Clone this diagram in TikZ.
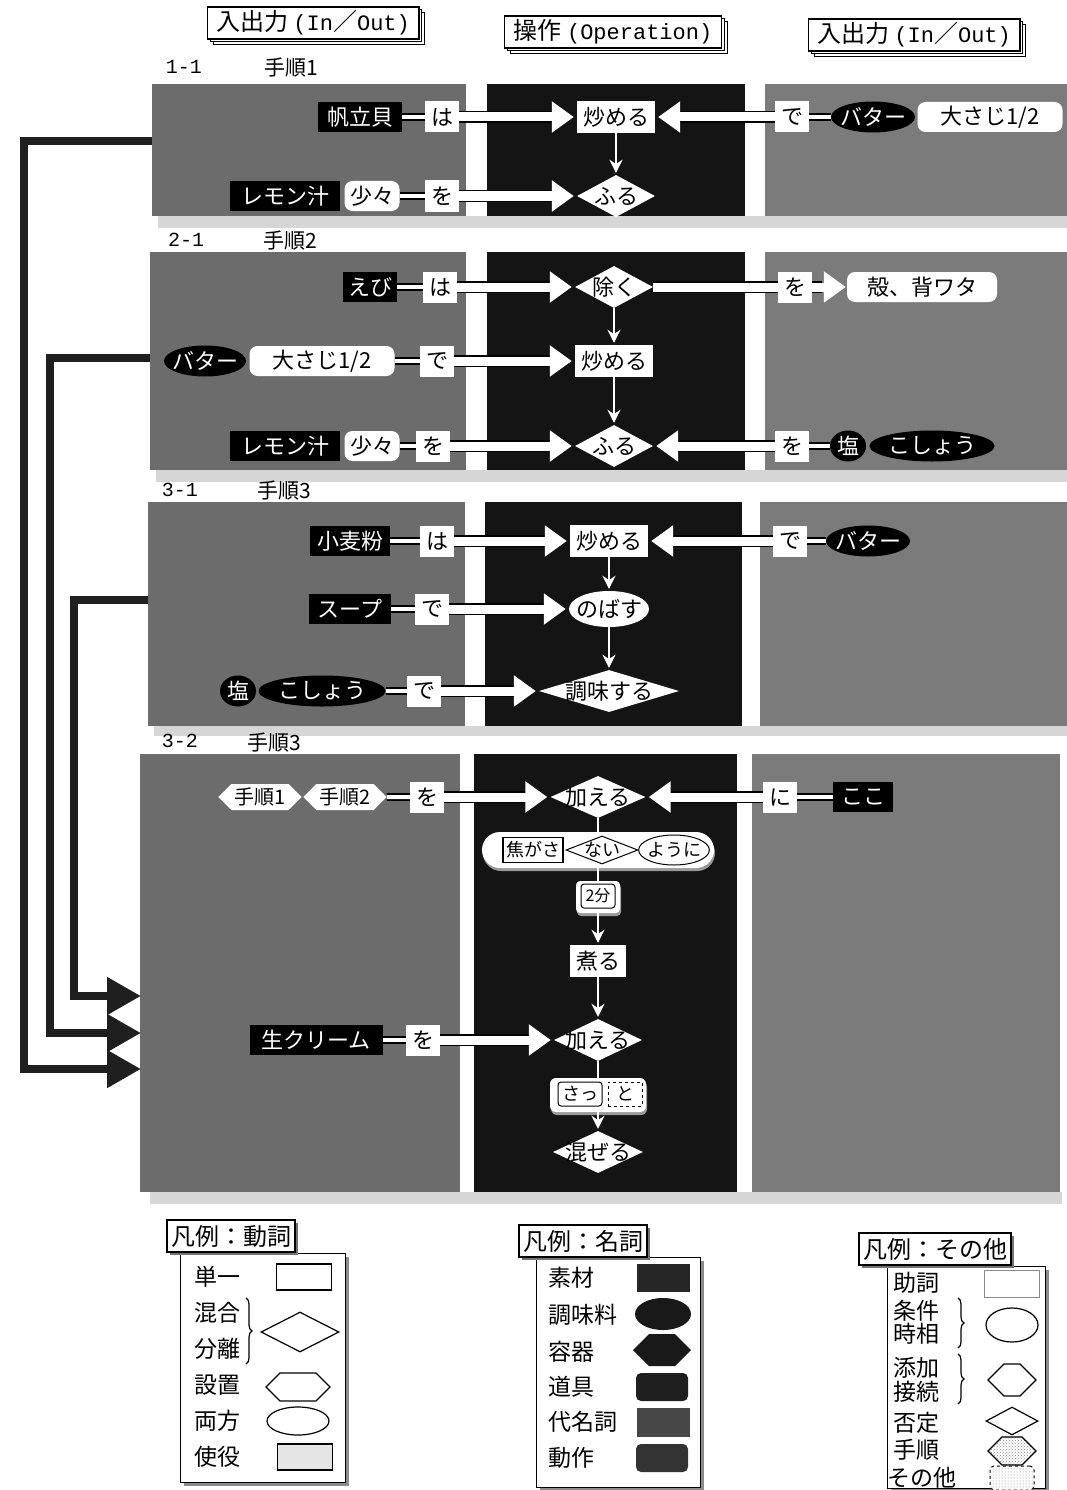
\documentclass[tikz,border=0pt]{standalone}
\usepackage{fontspec}
\setmainfont{Noto Sans CJK JP}
\newfontfamily\monof{Liberation Mono}
\usetikzlibrary{shapes.geometric,shapes.symbols,shapes.misc,arrows.meta,patterns,shadows,decorations.pathreplacing}
\definecolor{lgray}{HTML}{6C6C6C}
\definecolor{rgray}{HTML}{7B7B7B}
\definecolor{mblack}{HTML}{141414}
\definecolor{band}{HTML}{D6D6D6}
\newcommand{\fsz}[1]{\fontsize{#1}{#1}\selectfont}
\begin{document}
\begin{tikzpicture}[x=1pt,y=-1pt,
  every node/.style={inner sep=0pt, font=\fsz{22}},
  mat/.style={rectangle, fill=black, text=white, minimum height=30pt, inner xsep=5pt},
  seas/.style={ellipse, fill=black, text=white, minimum height=31pt, inner xsep=-5pt},
  part/.style={rectangle, fill=white, minimum width=34pt, minimum height=31pt},
  rnd/.style={rectangle, rounded corners=8pt, fill=white, minimum height=30pt, inner xsep=5pt},
  opbox/.style={rectangle, fill=white, minimum height=32pt, inner xsep=6pt},
  opell/.style={ellipse, fill=white, minimum height=36pt, inner xsep=-5pt},
  dia/.style 2 args={diamond, fill=white, minimum width=#1, minimum height=42pt, label={center:#2}},
  hexw/.style={signal, signal to=east and west, fill=white, minimum height=26pt, inner xsep=3pt, font=\fsz{20}},
  lnk/.style={draw=black, line width=1.8pt, double=white, double distance=4pt},
  big/.style={draw=white, line width=9pt, -{Triangle[width=30pt,length=22pt]}, shorten >=3pt,
     preaction={draw=black, line width=12pt, -, shorten >=25pt}},
  bigline/.style={draw=white, line width=9pt, preaction={draw=black, line width=12pt}},
  thinar/.style={draw=white, line width=2.5pt, -{Stealth[length=13pt,width=13pt]}, shorten >=2pt},
  thinln/.style={draw=white, line width=2.5pt},
  conn/.style={draw=black!88, line width=8pt, line join=miter, -{Triangle[width=36pt,length=34pt]}},
  hdr/.style={draw, line width=1.2pt, fill=white, minimum height=32pt, inner xsep=9pt, font=\fsz{24},
     double copy shadow={shadow xshift=3pt, shadow yshift=-3pt, draw=black, fill=white, line width=1pt}},
  lbl/.style={font=\monof\fsz{20}},
  stp/.style={font=\fsz{21}},
  lgl/.style={font=\fsz{23}},
  ltitle/.style={draw, line width=1.2pt, fill=white, minimum height=32pt, inner xsep=4pt, font=\fsz{24},
     copy shadow={shadow xshift=3pt, shadow yshift=-3pt, fill=black!55, draw=none}},
  lbox/.style={anchor=north west, draw, line width=1pt, fill=white,
     copy shadow={shadow xshift=3pt, shadow yshift=-3pt, fill=black!45, draw=none}},
  sym/.style={draw, line width=1.2pt, fill=white},
  brc/.style={line width=1.2pt, decorate, decoration={brace, amplitude=6pt}},
  hexs/.style={signal, signal to=east and west}
]
\useasboundingbox[fill=white] (0,0) rectangle (1067,1490);

% ---------- headers ----------
\node[hdr] (h1) at (313,23) {入出力 {\monof\fsz{22}(In}／{\monof\fsz{22}Out)}};
\node[hdr] (h2) at (613,32) {操作 {\monof\fsz{22}(Operation)}};
\node[hdr] (h3) at (914,35) {入出力 {\monof\fsz{22}(In}／{\monof\fsz{22}Out)}};

% ---------- panel backgrounds ----------
\fill[band] (158,216) rectangle (1067,228);
\fill[lgray] (152,84) rectangle (466,216);
\fill[mblack] (487,84) rectangle (745,216);
\fill[rgray] (765,84) rectangle (1067,216);

\fill[band] (156,470) rectangle (1067,482);
\fill[lgray] (150,252) rectangle (466,470);
\fill[mblack] (487,252) rectangle (745,470);
\fill[rgray] (765,252) rectangle (1067,470);

\fill[band] (154,726) rectangle (1067,736);
\fill[lgray] (148,502) rectangle (465,726);
\fill[mblack] (485,502) rectangle (742,726);
\fill[rgray] (760,502) rectangle (1067,726);

\fill[band] (150,1192) rectangle (1062,1204);
\fill[lgray] (140,754) rectangle (460,1192);
\fill[mblack] (474,754) rectangle (737,1192);
\fill[rgray] (752,754) rectangle (1060,1192);

% ---------- panel labels ----------
\node[lbl] (n11) at (184,67) {1-1};
\node[stp] (s11) at (291,68) {手順1};
\node[lbl] (n21) at (186,240) {2-1};
\node[stp] (s21) at (290,241) {手順2};
\node[lbl] (n31) at (180,490) {3-1};
\node[stp] (s31) at (284,491) {手順3};
\node[lbl] (n32) at (180,741) {3-2};
\node[stp] (s32) at (274,743) {手順3};

% ---------- panel 1 ----------
\node[mat, minimum width=84pt] (p1a) at (360,117) {帆立貝};
\node[part] (p1b) at (442,117) {は};
\node[opbox] (p1c) at (616,117) {炒める};
\node[part] (p1d) at (792,117) {で};
\node[seas, minimum width=84pt] (p1e) at (873,117) {バター};
\node[rnd, minimum width=145pt] (p1f) at (990,117) {大さじ1/2};
\node[dia={78pt}{ふる}] (p1g) at (616,196) {};
\node[mat, minimum width=110pt] (p1h) at (285,196) {レモン汁};
\node[rnd, minimum width=55pt] (p1i) at (372,196) {少々};
\node[part] (p1j) at (442,196) {を};
\draw[lnk] (p1a) -- (p1b);
\draw[lnk] (p1d) -- (p1e);
\draw[lnk] (p1i) -- (p1j);
\draw[big] (p1b.east) -- (p1c.west);
\draw[big] (p1d.west) -- (p1c.east);
\draw[big] (p1j.east) -- (p1g.west);
\draw[thinar] (p1c.south) -- (p1g.north);

% ---------- panel 2 ----------
\node[mat] (p2a) at (370,287) {えび};
\node[part] (p2b) at (440,287) {は};
\node[dia={78pt}{除く}] (p2c) at (614,287) {};
\node[part] (p2d) at (795,287) {を};
\node[rnd, minimum width=150pt] (p2e) at (922,287) {殻、背ワタ};
\node[seas, minimum width=82pt] (p2f) at (205,361) {バター};
\node[rnd, minimum width=145pt] (p2g) at (322,361) {大さじ1/2};
\node[part] (p2h) at (437,361) {で};
\node[opbox] (p2i) at (614,361) {炒める};
\node[dia={78pt}{ふる}] (p2j) at (614,446) {};
\node[mat, minimum width=110pt] (p2k) at (285,446) {レモン汁};
\node[rnd, minimum width=55pt] (p2l) at (372,446) {少々};
\node[part] (p2m) at (433,446) {を};
\node[part] (p2n) at (792,446) {を};
\node[seas, minimum width=36pt] (p2o) at (848,446) {塩};
\node[seas, minimum width=125pt] (p2p) at (932,446) {こしょう};
\draw[lnk] (p2a) -- (p2b);
\draw[lnk] (p2g) -- (p2h);
\draw[lnk] (p2l) -- (p2m);
\draw[lnk] (p2n) -- (p2o);
\draw[big] (p2b.east) -- (p2c.west);
\draw[bigline] (p2c.east) -- (p2d.west);
\draw[big, shorten >=1pt] (p2d.east) -- (p2e.west);
\draw[big] (p2h.east) -- (p2i.west);
\draw[big] (p2m.east) -- (p2j.west);
\draw[big] (p2n.west) -- (p2j.east);
\draw[thinar] (p2c.south) -- (p2i.north);
\draw[thinar] (p2i.south) -- (p2j.north);

% ---------- panel 3 ----------
\node[mat, minimum width=80pt] (p3a) at (350,541) {小麦粉};
\node[part] (p3b) at (437,541) {は};
\node[opbox] (p3c) at (609,541) {炒める};
\node[part] (p3d) at (790,541) {で};
\node[seas, minimum width=84pt] (p3e) at (868,541) {バター};
\node[mat, minimum width=82pt] (p3f) at (350,609) {スープ};
\node[part] (p3g) at (432,609) {で};
\node[opell, minimum width=80pt] (p3h) at (609,609) {のばす};
\node[dia={140pt}{調味する}] (p3i) at (609,691) {};
\node[seas, minimum width=36pt] (p3j) at (238,691) {塩};
\node[seas, minimum width=127pt] (p3k) at (322,691) {こしょう};
\node[part] (p3l) at (424,691) {で};
\draw[lnk] (p3a) -- (p3b);
\draw[lnk] (p3d) -- (p3e);
\draw[lnk] (p3f) -- (p3g);
\draw[lnk] (p3k) -- (p3l);
\draw[big] (p3b.east) -- (p3c.west);
\draw[big] (p3d.west) -- (p3c.east);
\draw[big] (p3g.east) -- (p3h.west);
\draw[big] (p3l.east) -- (p3i.west);
\draw[thinar] (p3c.south) -- (p3h.north);
\draw[thinar] (p3h.south) -- (p3i.north);

% ---------- panel 4 ----------
\node[hexw, minimum width=80pt] (p4a) at (260,797) {手順1};
\node[hexw, minimum width=80pt] (p4b) at (345,797) {手順2};
\node[part] (p4c) at (427,797) {を};
\node[dia={95pt}{加える}] (p4d) at (598,797) {};
\node[part] (p4e) at (780,797) {に};
\node[mat, minimum width=60pt] (p4f) at (863,797) {ここ};

\node[rounded rectangle, fill=white, minimum width=232pt, minimum height=36pt,
      copy shadow={shadow xshift=1pt, shadow yshift=-3pt, fill=black!40, draw=none}] (p4g) at (598,850) {};
\node[draw, line width=1.6pt, fill=white, minimum height=25pt, inner xsep=3pt, font=\fsz{18}] (p4g1) at (533,850) {焦がさ};
\node[diamond, draw, line width=1pt, fill=white, minimum width=72pt, minimum height=28pt,
      label={[font=\fsz{18}]center:ない}] (p4g2) at (602,850) {};
\node[ellipse, draw, line width=1pt, fill=white, minimum height=30pt, inner xsep=-2pt, font=\fsz{18}] (p4g3) at (674,850) {ように};

\node[rectangle, rounded corners=4pt, fill=white, minimum width=44pt, minimum height=32pt,
      copy shadow={shadow xshift=1pt, shadow yshift=-3pt, fill=black!40, draw=none}] (p4h) at (598,897) {};
\node[rectangle, rounded corners=3pt, draw, line width=1pt, fill=white, minimum width=34pt, minimum height=24pt, font=\fsz{16}] (p4h1) at (598,896) {2分};

\node[opbox] (p4i) at (598,961) {煮る};
\node[dia={88pt}{加える}] (p4j) at (598,1040) {};
\node[mat, minimum width=133pt] (p4k) at (316,1040) {生クリーム};
\node[part] (p4l) at (423,1040) {を};

\node[rectangle, rounded corners=6pt, fill=white, minimum width=96pt, minimum height=34pt,
      copy shadow={shadow xshift=1pt, shadow yshift=-3pt, fill=black!40, draw=none}] (p4m) at (598,1095) {};
\node[rectangle, rounded corners=3pt, draw, line width=1pt, fill=white, minimum width=44pt, minimum height=24pt, font=\fsz{18}] (p4m1) at (580,1094) {さっ};
\node[rectangle, draw, dashed, line width=1pt, fill=white, minimum width=34pt, minimum height=24pt, font=\fsz{18}] (p4m2) at (625,1094) {と};

\node[dia={90pt}{混ぜる}] (p4n) at (598,1152) {};

\draw[lnk] (p4b) -- (p4c);
\draw[lnk] (p4e) -- (p4f);
\draw[lnk] (p4k) -- (p4l);
\draw[big] (p4c.east) -- (p4d.west);
\draw[big] (p4e.west) -- (p4d.east);
\draw[big] (p4l.east) -- (p4j.west);
\draw[thinln] (p4d.south) -- (p4g.north);
\draw[thinln] (p4g.south) -- (p4h.north);
\draw[thinar] (p4h.south) -- (p4i.north);
\draw[thinar] (p4i.south) -- (p4j.north);
\draw[thinln] (p4j.south) -- (p4m.north);
\draw[thinar] (p4m.south) -- (p4n.north);

% ---------- left connectors ----------
\coordinate (P1w) at (152,141);
\coordinate (P2w) at (150,358);
\coordinate (P3w) at (148,600);
\coordinate (T1) at (141,1069);
\coordinate (T2) at (141,1033);
\coordinate (T3) at (141,996);
\draw[conn] (P1w) -- (24,141) |- (T1);
\draw[conn] (P2w) -- (50,358) |- (T2);
\draw[conn] (P3w) -- (74,600) |- (T3);

% ---------- legend: verbs ----------
\node[lbox, minimum width=165pt, minimum height=229pt] (LB1) at (180,1253) {};
\node[ltitle] (LT1) at (231,1236) {凡例：動詞};
\node[lgl] (v1) at (217,1277) {単一};
\node[sym, minimum width=55pt, minimum height=26pt] (v1s) at (304,1277) {};
\node[lgl] (v2) at (217,1313) {混合};
\node[lgl] (v3) at (217,1349) {分離};
\draw[brc] (246,1298) -- (246,1364);
\node[sym, diamond, minimum width=78pt, minimum height=40pt] (v2s) at (300,1332) {};
\node[lgl] (v4) at (217,1385) {設置};
\node[sym, hexs, minimum width=64pt, minimum height=28pt] (v4s) at (298,1387) {};
\node[lgl] (v5) at (217,1421) {両方};
\node[sym, ellipse, minimum width=62pt, minimum height=28pt] (v5s) at (298,1421) {};
\node[lgl] (v6) at (217,1457) {使役};
\node[sym, fill=black!10, minimum width=55pt, minimum height=26pt] (v6s) at (305,1457) {};

% ---------- legend: nouns ----------
\node[lbox, minimum width=164pt, minimum height=230pt] (LB2) at (536,1257) {};
\node[ltitle] (LT2) at (583,1241) {凡例：名詞};
\node[lgl, anchor=west] (m1) at (548,1278) {素材};
\node[fill=black!85, minimum width=53pt, minimum height=28pt] (m1s) at (663,1278) {};
\node[lgl, anchor=west] (m2) at (548,1315) {調味料};
\node[ellipse, fill=black!90, minimum width=56pt, minimum height=32pt] (m2s) at (663,1314) {};
\node[lgl, anchor=west] (m3) at (548,1352) {容器};
\node[hexs, fill=black!90, minimum width=58pt, minimum height=32pt] (m3s) at (662,1350) {};
\node[lgl, anchor=west] (m4) at (548,1387) {道具};
\node[rectangle, rounded corners=5pt, fill=black!88, minimum width=52pt, minimum height=28pt] (m4s) at (662,1387) {};
\node[lgl, anchor=west] (m5) at (548,1422) {代名詞};
\node[fill=black!72, minimum width=53pt, minimum height=29pt] (m5s) at (663,1422) {};
\node[lgl, anchor=west] (m6) at (548,1458) {動作};
\node[rectangle, rounded corners=5pt, fill=black!80, minimum width=52pt, minimum height=28pt] (m6s) at (662,1458) {};

% ---------- legend: others ----------
\node[lbox, minimum width=158pt, minimum height=222pt] (LB3) at (887,1266) {};
\node[ltitle] (LT3) at (935,1249) {凡例：その他};
\node[lgl, anchor=west] (o1) at (893,1283) {助詞};
\node[draw=black!45, line width=1pt, fill=white, minimum width=55pt, minimum height=27pt] (o1s) at (1012,1284) {};
\node[lgl, anchor=west] (o2) at (893,1311) {条件};
\node[lgl, anchor=west] (o3) at (893,1334) {時相};
\draw[brc] (958,1298) -- (958,1348);
\node[sym, ellipse, minimum width=52pt, minimum height=34pt] (o2s) at (1012,1325) {};
\node[lgl, anchor=west] (o4) at (893,1368) {添加};
\node[lgl, anchor=west] (o5) at (893,1392) {接続};
\draw[brc] (958,1354) -- (958,1404);
\node[sym, hexs, minimum width=48pt, minimum height=32pt] (o4s) at (1012,1380) {};
\node[lgl, anchor=west] (o6) at (893,1423) {否定};
\node[sym, diamond, minimum width=52pt, minimum height=28pt] (o6s) at (1012,1421) {};
\node[lgl, anchor=west] (o7) at (893,1450) {手順};
\node[sym, hexs, minimum width=48pt, minimum height=28pt, pattern=crosshatch dots, pattern color=black!45] (o7s) at (1012,1451) {};
\node[lgl, anchor=west] (o8) at (887,1478) {その他};
\node[draw, dashed, line width=1pt, rounded corners=4pt, fill=white, minimum width=44pt, minimum height=24pt,
      postaction={pattern=dots, pattern color=black!50}] (o8s) at (1012,1478) {};
\end{tikzpicture}
\end{document}
